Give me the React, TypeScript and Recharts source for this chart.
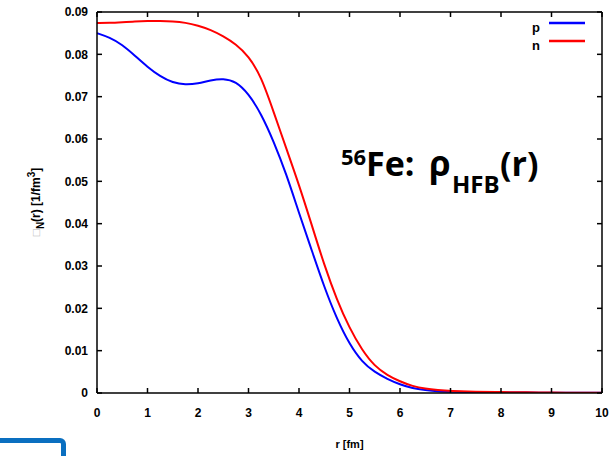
import { LineChart, Line, XAxis, YAxis } from "recharts"

const radius = [
  0, 0.25, 0.5, 0.75, 1, 1.25, 1.5, 1.75, 2, 2.25, 2.5, 2.75, 3, 3.25, 3.5, 3.75, 4, 4.25, 4.5, 4.75, 5,
  5.25, 5.5, 5.75, 6, 6.25, 6.5, 6.75, 7, 7.5, 8, 8.5, 9, 9.5, 10,
]
const protons = [
  0.085, 0.084, 0.0823, 0.0797, 0.077, 0.0748, 0.0733, 0.0728, 0.0731, 0.0739, 0.0743, 0.0736, 0.0707,
  0.066, 0.0594, 0.0517, 0.0425, 0.0338, 0.025, 0.0175, 0.0115, 0.0073, 0.0049, 0.0033, 0.002, 0.0011,
  0.0007, 0.0004, 0.0003, 0.0002, 0.0001, 0.0001, 0.00005, 0.00005, 0.00005,
]
const neutrons = [
  0.0874, 0.0874, 0.0876, 0.0878, 0.0879, 0.0879, 0.0878, 0.0875, 0.0868, 0.0858, 0.0843, 0.0824, 0.0796,
  0.0748, 0.0663, 0.0577, 0.0492, 0.0398, 0.0302, 0.022, 0.0153, 0.0101, 0.0063, 0.0042, 0.0027, 0.0016,
  0.001, 0.0007, 0.0005, 0.0003, 0.0002, 0.00015, 0.0001, 0.00005, 0.00005,
]
const xTicks = [0, 1, 2, 3, 4, 5, 6, 7, 8, 9, 10]
const yTicks = [0, 0.01, 0.02, 0.03, 0.04, 0.05, 0.06, 0.07, 0.08, 0.09]
const seriesNames = ["p", "n"]
const seriesColors = ["#0000ff", "#ff0000"]

const data = radius.map((r, i) => ({ r, p: protons[i], n: neutrons[i] }))

const font = "'Liberation Sans', Arial, sans-serif"
const tickStyle = { fontFamily: font, fontSize: 12, fontWeight: 700, fill: "#000" }
const noLabel = () => <g />

export default function App() {
  return (
    <div style={{ position: "fixed", left: 0, top: 0, width: 612, height: 456, overflow: "hidden", background: "#fff" }}>
      <LineChart width={612} height={456} data={data} margin={{ top: 11, right: 9, bottom: 0, left: 0 }}>
        <XAxis
          dataKey="r"
          type="number"
          domain={[0, 10]}
          ticks={xTicks}
          allowDataOverflow
          height={63}
          tickSize={-5}
          tickMargin={20}
          tick={tickStyle}
          stroke="#000"
          strokeWidth={1.5}
          label={{ value: "r [fm]", position: "insideBottom", offset: 8, style: { ...tickStyle, fontSize: 11 } }}
        />
        <XAxis
          xAxisId="top"
          orientation="top"
          dataKey="r"
          type="number"
          domain={[0, 10]}
          ticks={xTicks}
          allowDataOverflow
          height={1}
          tickSize={-5}
          tick={noLabel}
          stroke="#000"
          strokeWidth={1.5}
        />
        <YAxis
          type="number"
          domain={[0, 0.09]}
          ticks={yTicks}
          allowDataOverflow
          width={97}
          tickSize={-5}
          tickMargin={14}
          tick={tickStyle}
          tickFormatter={(v: number) => (v === 0 ? "0" : v.toFixed(2))}
          stroke="#000"
          strokeWidth={1.5}
        />
        <YAxis
          yAxisId="right"
          orientation="right"
          type="number"
          domain={[0, 0.09]}
          ticks={yTicks}
          allowDataOverflow
          width={1}
          tickSize={-5}
          tick={noLabel}
          stroke="#000"
          strokeWidth={1.5}
        />
        <Line dataKey="p" name="p" type="basis" stroke="#0000ff" strokeWidth={2} dot={false} isAnimationActive={false} />
        <Line dataKey="n" name="n" type="basis" stroke="#ff0000" strokeWidth={2} dot={false} isAnimationActive={false} />
      </LineChart>

      {/* key and title drawn on top of the chart */}
      <svg width={612} height={456} style={{ position: "absolute", left: 0, top: 0, pointerEvents: "none" }}>
        {seriesNames.map((name, i) => (
          <g key={name}>
            <text x={540} y={32 + i * 18} textAnchor="end" fontFamily={font} fontSize={13} fontWeight={700}>
              {name}
            </text>
            <line x1={549} x2={585} y1={23 + i * 18} y2={23 + i * 18} stroke={seriesColors[i]} strokeWidth={2.3} />
          </g>
        ))}
        <g fontFamily="'Open Sans', sans-serif" fontWeight={700} fill="#000">
          <text x={341} y={165} fontSize={22}>56</text>
          <text x={366} y={176} fontSize={34}>Fe:</text>
          <text x={429} y={176} fontSize={35}>ρ</text>
          <text x={452} y={193} fontSize={24}>HFB</text>
          <text x={500} y={176} fontSize={34}>(r)</text>
        </g>
      </svg>

      <div
        style={{
          position: "absolute",
          left: 36,
          top: 202,
          transform: "translate(-50%, -50%) rotate(-90deg)",
          whiteSpace: "nowrap",
          fontFamily: font,
          fontSize: 12,
          fontWeight: 700,
        }}
      >
        <span style={{ color: "#bbb", fontWeight: 400 }}>□</span>
        <sub style={{ fontSize: 10 }}>N</sub>(r) [1/fm<sup style={{ fontSize: 10 }}>3</sup>]
      </div>

      <div
        style={{
          position: "absolute",
          left: -10,
          top: 438,
          width: 66,
          height: 40,
          border: "5px solid #0a6fc0",
          borderRadius: 6,
        }}
      />
    </div>
  )
}
